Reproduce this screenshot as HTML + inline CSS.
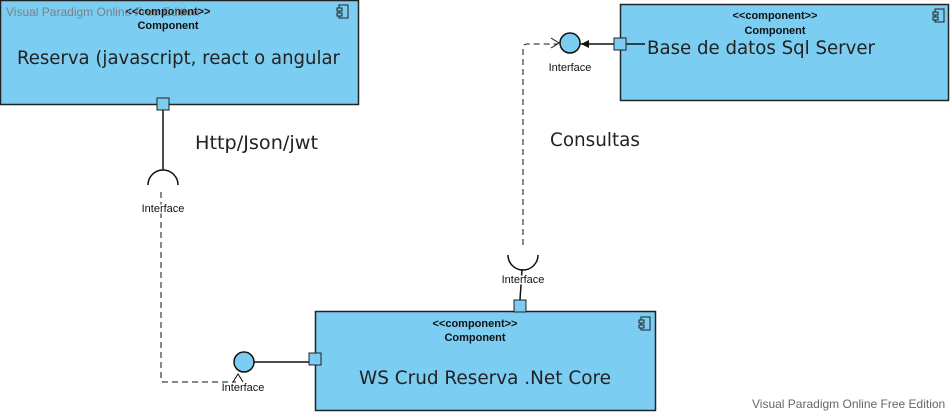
<!DOCTYPE html>
<html><head><meta charset="utf-8"><style>
html,body{margin:0;padding:0;background:#fff;width:951px;height:413px;overflow:hidden}
text{font-family:"Liberation Sans",sans-serif}
text.big{font-family:"DejaVu Sans",sans-serif}
</style></head><body>
<svg width="951" height="413" viewBox="0 0 951 413" xmlns="http://www.w3.org/2000/svg">
<defs>
<g id="ic"><rect x="2" y="0" width="9" height="13" fill="none" stroke="#222" stroke-width="1"/><rect x="0" y="3" width="5" height="3" fill="#7bcdf2" stroke="#222" stroke-width="1"/><rect x="0" y="8" width="5" height="3" fill="#7bcdf2" stroke="#222" stroke-width="1"/></g>
</defs>
<!-- Box 1 -->
<rect x="0.5" y="0.5" width="358" height="104" fill="#7bcdf2" stroke="#222" stroke-width="1.5"/>
<use href="#ic" x="337" y="5"/>
<text x="168" y="15" font-size="11" font-weight="bold" text-anchor="middle" fill="#111">&lt;&lt;component&gt;&gt;</text>
<text x="168" y="29" font-size="11" font-weight="bold" text-anchor="middle" fill="#111">Component</text>
<text x="6" y="16" font-size="12" fill="#777" opacity="0.85">Visual Paradigm Online Free Edition</text>
<text class="big" x="17" y="64" font-size="19" fill="#222" textLength="323" lengthAdjust="spacingAndGlyphs">Reserva (javascript, react o angular</text>
<!-- Box 2 -->
<rect x="620.5" y="4.5" width="328" height="96" fill="#7bcdf2" stroke="#222" stroke-width="1.5"/>
<use href="#ic" x="933" y="9"/>
<text x="775" y="19" font-size="11" font-weight="bold" text-anchor="middle" fill="#111">&lt;&lt;component&gt;&gt;</text>
<text x="775" y="34" font-size="11" font-weight="bold" text-anchor="middle" fill="#111">Component</text>
<text class="big" x="647" y="54" font-size="19" fill="#222" textLength="228" lengthAdjust="spacingAndGlyphs">Base de datos Sql Server</text>
<!-- Box 3 -->
<rect x="315.5" y="311.5" width="340" height="99" fill="#7bcdf2" stroke="#222" stroke-width="1.5"/>
<use href="#ic" x="639" y="317"/>
<text x="475" y="327" font-size="11" font-weight="bold" text-anchor="middle" fill="#111">&lt;&lt;component&gt;&gt;</text>
<text x="475" y="341" font-size="11" font-weight="bold" text-anchor="middle" fill="#111">Component</text>
<text class="big" x="359" y="384" font-size="19" fill="#222" textLength="252" lengthAdjust="spacingAndGlyphs">WS Crud Reserva .Net Core</text>
<!-- labels -->
<text class="big" x="195" y="149" font-size="19" fill="#222" textLength="123" lengthAdjust="spacingAndGlyphs">Http/Json/jwt</text>
<text class="big" x="550" y="146" font-size="19" fill="#222" textLength="90" lengthAdjust="spacingAndGlyphs">Consultas</text>
<text x="752" y="408" font-size="12" fill="#666">Visual Paradigm Online Free Edition</text>
<!-- Connector 1 -->
<line x1="163" y1="110" x2="163" y2="170" stroke="#111" stroke-width="1.5"/>
<path d="M148,185 A15,15 0 0 1 178,185" fill="none" stroke="#111" stroke-width="1.5"/>
<rect x="157" y="98" width="12" height="12" fill="#7bcdf2" stroke="#222" stroke-width="1"/>
<path d="M161,192 L161,380 Q161,382 164,382 L236,382" fill="none" stroke="#111" stroke-width="1" stroke-dasharray="6,4"/>
<path d="M233,382 L238,374 L243,382" fill="none" stroke="#111" stroke-width="1"/>
<text x="163" y="212" font-size="11" text-anchor="middle" fill="#111" stroke="#fff" stroke-width="3" paint-order="stroke">Interface</text>
<!-- lollipop near box3 -->
<line x1="254" y1="362" x2="309" y2="362" stroke="#111" stroke-width="1.5"/>
<circle cx="244" cy="362" r="10" fill="#7bcdf2" stroke="#111" stroke-width="1.5"/>
<rect x="309" y="353" width="12" height="12" fill="#7bcdf2" stroke="#222" stroke-width="1"/>
<text x="243" y="391" font-size="11" text-anchor="middle" fill="#111">Interface</text>
<!-- Connector 2 -->
<line x1="520" y1="300" x2="522" y2="269" stroke="#111" stroke-width="1.5"/>
<path d="M508,255 A15,15 0 0 0 538,255" fill="none" stroke="#111" stroke-width="1.5"/>
<rect x="514" y="300" width="12" height="12" fill="#7bcdf2" stroke="#222" stroke-width="1"/>
<path d="M523,245 L523,48 Q523,44 527,44 L558,44" fill="none" stroke="#111" stroke-width="1" stroke-dasharray="6,4"/>
<path d="M551,38 L559,43 L551,48" fill="none" stroke="#111" stroke-width="1"/>
<text x="523" y="283" font-size="11" text-anchor="middle" fill="#111" stroke="#fff" stroke-width="3" paint-order="stroke">Interface</text>
<!-- lollipop near box2 -->
<line x1="580" y1="44" x2="614" y2="44" stroke="#111" stroke-width="1.5"/>
<line x1="626" y1="44" x2="645" y2="44" stroke="#111" stroke-width="1.5"/>
<path d="M581,44 L589,40 L589,48 Z" fill="#111"/>
<circle cx="570" cy="43" r="10" fill="#7bcdf2" stroke="#111" stroke-width="1.5"/>
<rect x="614" y="38" width="12" height="12" fill="#7bcdf2" stroke="#222" stroke-width="1"/>
<text x="570" y="71" font-size="11" text-anchor="middle" fill="#111">Interface</text>
</svg>
</body></html>
